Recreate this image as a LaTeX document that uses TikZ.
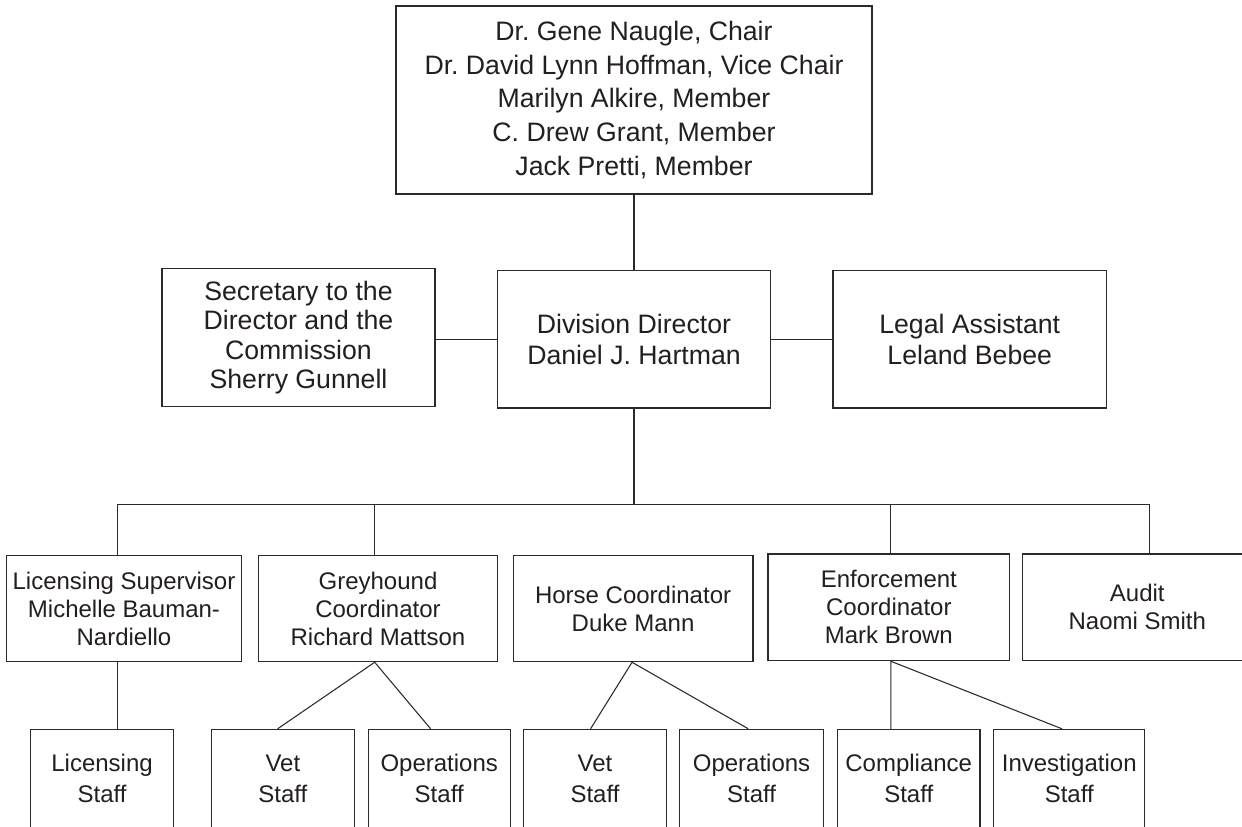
\documentclass[tikz,border=0pt]{standalone}
\usepackage{fontspec}
\setmainfont{Liberation Sans}
\frenchspacing
\definecolor{ln}{HTML}{2B2B2B}
\definecolor{txt}{HTML}{231F20}
\tikzset{
  box/.style={draw=ln, line width=0.8pt, rectangle, inner sep=0pt, align=center, text=txt},
  topbox/.style={box, line width=1.6pt, font=\fontsize{20}{25.2}\selectfont},
  midbox/.style={box, font=\fontsize{20}{22.5}\selectfont},
  rowbox/.style={box, font=\fontsize{18}{21}\selectfont},
  staffbox/.style={box, font=\fontsize{18}{23.2}\selectfont},
  conn/.style={draw=ln, line width=0.8pt}
}
\begin{document}
\begin{tikzpicture}[x=0.75pt,y=-0.75pt]
\useasboundingbox (0,0) rectangle (1242,826);
\clip (0,0) rectangle (1242,826);
\fill[white] (0,0) rectangle (1242,826);
% top
\node[topbox, minimum width=476*0.75pt, minimum height=188*0.75pt] (top) at (634,100)
  {Dr. Gene Naugle, Chair\\Dr. David Lynn Hoffman, Vice Chair\\Marilyn Alkire, Member\\C. Drew Grant, Member\\Jack Pretti, Member};
% second row
\node[midbox, minimum width=273*0.75pt, minimum height=137.5*0.75pt, font=\fontsize{20}{22.2}\selectfont] (sec) at (298.5,337.5)
  {Secretary to the\\Director and the\\Commission\\Sherry Gunnell};
\node[midbox, minimum width=273*0.75pt, minimum height=137.5*0.75pt, font=\fontsize{20}{23}\selectfont] (dir) at (634,339.25)
  {Division Director\\Daniel J. Hartman};
\node[midbox, minimum width=273.5*0.75pt, minimum height=137.5*0.75pt, font=\fontsize{20}{23.3}\selectfont] (legal) at (969.75,339.25)
  {Legal Assistant\\Leland Bebee};
% third row
\node[rowbox, minimum width=234.6*0.75pt, minimum height=106*0.75pt] (lic) at (124,608.7)
  {Licensing Supervisor\\Michelle Bauman-\\Nardiello};
\node[rowbox, minimum width=238.6*0.75pt, minimum height=106*0.75pt] (grey) at (378,608.7)
  {Greyhound\\Coordinator\\Richard Mattson};
\node[rowbox, minimum width=239.8*0.75pt, minimum height=106*0.75pt] (horse) at (633.1,608.7)
  {Horse Coordinator\\Duke Mann};
\node[rowbox, minimum width=241.7*0.75pt, minimum height=106.7*0.75pt] (enf) at (888.85,607.35)
  {Enforcement\\Coordinator\\Mark Brown};
\node[rowbox, minimum width=229.5*0.75pt, minimum height=106.5*0.75pt] (audit) at (1137.25,607.25)
  {Audit\\Naomi Smith};
% bottom row
\node[staffbox, minimum width=142.9*0.75pt, minimum height=98.7*0.75pt] (lstaff) at (102.05,778.65) {Licensing\\Staff};
\node[staffbox, minimum width=142.9*0.75pt, minimum height=98.7*0.75pt] (gvet) at (282.85,778.65) {Vet\\Staff};
\node[staffbox, minimum width=142*0.75pt, minimum height=98.7*0.75pt] (gops) at (439.2,778.65) {Operations\\Staff};
\node[staffbox, minimum width=142.6*0.75pt, minimum height=98.7*0.75pt] (hvet) at (595,778.65) {Vet\\Staff};
\node[staffbox, minimum width=143.3*0.75pt, minimum height=98.7*0.75pt] (hops) at (751.55,778.65) {Operations\\Staff};
\node[staffbox, minimum width=142.5*0.75pt, minimum height=98.7*0.75pt] (comp) at (908.75,778.65) {Compliance\\Staff};
\node[staffbox, minimum width=150.7*0.75pt, minimum height=98.7*0.75pt] (inv) at (1069.25,778.65) {Investigation\\Staff};
% bus coordinates
\coordinate (busL) at (117.3,504.3);
\coordinate (busG) at (374.7,504.3);
\coordinate (busE) at (890.8,504.3);
\coordinate (busR) at (1149.3,504.3);
% connectors
\draw[conn] (top.south) -- (dir.north);
\draw[conn] (sec.east |- dir.west) -- (dir.west);
\draw[conn] (dir.east) -- (legal.west);
\draw[conn] (dir.south) -- (dir.south |- busL);
\draw[conn] (busL) -- (busR);
\draw[conn] (busL) -- (busL |- lic.north);
\draw[conn] (busG) -- (busG |- grey.north);
\draw[conn] (busE) -- (busE |- enf.north);
\draw[conn] (busR) -- (busR |- audit.north);
% to staff
\draw[conn] (busL |- lic.south) -- (busL |- lstaff.north);
\coordinate (gA) at (busG |- grey.south);
\draw[conn] ([xshift=-3.9pt]gvet.north) -- (gA) -- ([xshift=-6.45pt]gops.north);
\coordinate (hA) at ([xshift=-0.8pt]horse.south);
\draw[conn] ([xshift=-3.3pt]hvet.north) -- (hA) -- ([xshift=-2.5pt]hops.north);
\coordinate (eA) at (busE |- enf.south);
\draw[conn] (busE |- comp.north) -- (eA) -- ([xshift=-5.5pt]inv.north);
\end{tikzpicture}
\end{document}
